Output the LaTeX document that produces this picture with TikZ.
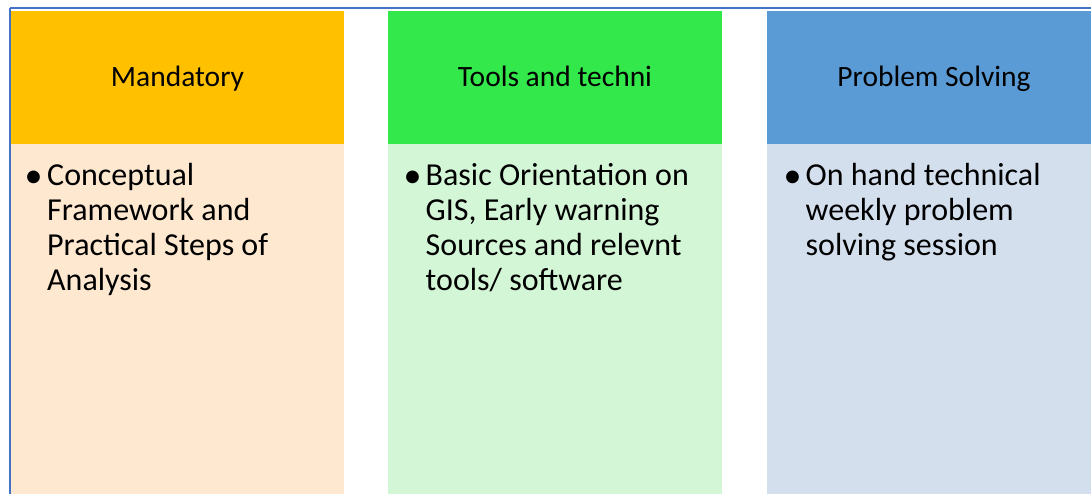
\documentclass[tikz,border=0pt]{standalone}
\usepackage{fontspec}
\setmainfont{Carlito}
\definecolor{hdrA}{HTML}{FFC000}
\definecolor{bodyA}{HTML}{FEE8D0}
\definecolor{hdrB}{HTML}{33E84A}
\definecolor{bodyB}{HTML}{D3F6D6}
\definecolor{hdrC}{HTML}{5B9BD5}
\definecolor{bodyC}{HTML}{D4DFEE}
\definecolor{frame}{HTML}{4472C4}
\tikzset{
  hdrtext/.style={anchor=base, inner sep=0pt, font=\fontsize{29.5}{35}\selectfont},
  bullettext/.style={anchor=base west, inner sep=0pt, font=\fontsize{32}{35}\selectfont},
  bulletdot/.style={anchor=base, inner sep=0pt, font=\fontsize{36}{35}\selectfont},
}
\begin{document}
\begin{tikzpicture}[x=1pt,y=-1pt]
\useasboundingbox (0,0) rectangle (1091,494);
\begin{scope}
\clip (0,0) rectangle (1091,494);
\fill[white] (0,0) rectangle (1091,494);
% frame lines
\draw[frame, line width=2pt] (9.5,8.5) -- (1095,8.5);
\draw[frame, line width=2pt] (10,8.5) -- (10,500);
% columns
\fill[hdrA] (11,11) rectangle (344,144);
\fill[bodyA] (11,144) rectangle (344,500);
\fill[hdrB] (388,11) rectangle (722,144);
\fill[bodyB] (388,144) rectangle (722,500);
\fill[hdrC] (767,11) rectangle (1101,144);
\fill[bodyC] (767,144) rectangle (1101,500);
\end{scope}
% headers
\node[hdrtext] (h1) at (177.5,86.7) {Mandatory};
\node[hdrtext] (h2) at (555,86.7) {Tools and techni};
\node[hdrtext] (h3) at (934,86.7) {Problem Solving};
% bullets
\node[bulletdot] (d1) at (33.5,187.5) {•};
\node[bulletdot] (d2) at (412.5,187.5) {•};
\node[bulletdot] (d3) at (792.5,187.5) {•};
% body texts
\node[bullettext] (t1) at (47,185.7) {\parbox[t]{290pt}{Conceptual\\Framework and\\Practical Steps of\\Analysis}};
\node[bullettext] (t2) at (425.5,185.7) {\parbox[t]{290pt}{Basic Orientation on\\GIS, Early warning\\Sources and relevnt\\tools/ software}};
\node[bullettext] (t3) at (805.5,185.7) {\parbox[t]{290pt}{On hand technical\\weekly problem\\solving session}};
\end{tikzpicture}
\end{document}
